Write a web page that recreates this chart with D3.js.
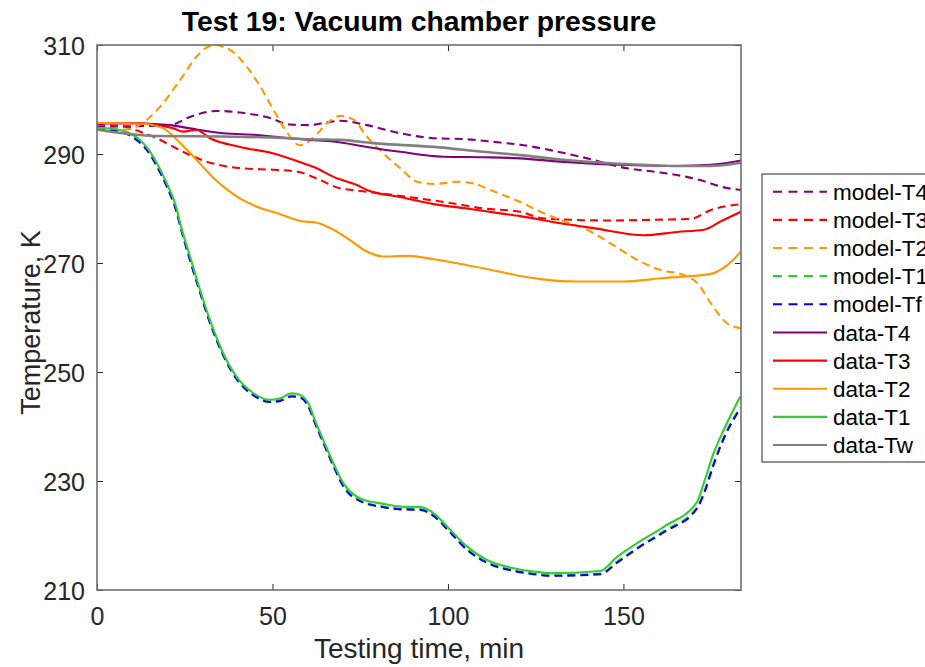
<!DOCTYPE html>
<html>
<head>
<meta charset="utf-8">
<script src="https://cdn.jsdelivr.net/npm/d3@7"></script>
<style>
  html, body { margin: 0; padding: 0; background: #fff; }
  svg { display: block; }
  text { font-family: "Liberation Sans", Arial, Helvetica, sans-serif; }
</style>
</head>
<body>
<div id="chart"></div>
<script>
// ---------------- DATA ----------------
const titleText = "Test 19: Vacuum chamber pressure";
const xLabelText = "Testing time, min";
const yLabelText = "Temperature, K";
const xTicks = [0, 50, 100, 150];
const yTicks = [210, 230, 250, 270, 290, 310];
const xDomain = [0, 183.5];
const yDomain = [210, 310];

const seriesNames  = ["model-T4","model-T3","model-T2","model-T1","model-Tf","data-T4","data-T3","data-T2","data-T1","data-Tw"];
const seriesColors = ["#800080","#ff0000","#ff9900","#33cc33","#0000ff","#800080","#ff0000","#ff9900","#33cc33","#808080"];
const seriesDashed = [true,true,true,true,true,false,false,false,false,false];

// [time (min), temperature (K)]
const modelT4 = [[0,295.0],[10,295.1],[20.8,295.3],[26.5,296.8],[34.1,297.9],[40.8,297.6],[49.3,296.6],[55,295.4],[60.7,295.3],[65.5,295.8],[69.3,296.1],[76.9,295.3],[86.4,293.8],[95.9,292.9],[105.4,292.7],[114.9,292.1],[120.6,291.7],[130,290.6],[139.7,289.2],[150,287.5],[160.6,286.6],[168,285.8],[173,285.0],[177.8,284.0],[183.5,283.4]];
const modelT3 = [[0,295.4],[8,295.0],[12.3,294.1],[17,292.9],[21.8,291.3],[26.5,289.8],[31.3,288.6],[40.8,287.4],[50.3,287.1],[56.9,286.8],[62.6,285.5],[69.3,283.7],[74.1,283.3],[81.6,282.7],[91.2,281.9],[100.7,281.0],[110.2,280.0],[120.6,279.4],[127,278.2],[136.5,277.9],[146.3,277.8],[155.8,277.9],[169.2,278.1],[174.8,279.7],[183.5,280.8]];
const modelT2 = [[0,294.7],[8,294.5],[12.3,295.4],[18,298.7],[23.7,303.6],[28.4,307.9],[33.2,310.0],[37.9,309.1],[42.7,306.0],[46.5,302.4],[50.3,298.1],[53.1,295.0],[57.9,291.6],[61.7,293.0],[65.5,295.6],[69.3,297.0],[73.1,296.3],[76.9,293.2],[81.6,290.1],[86.4,287.4],[91.2,284.9],[95.9,284.5],[102.6,284.9],[107.3,284.6],[112.1,283.4],[116.8,282.2],[120.6,281.2],[125.4,279.7],[132,277.9],[139.7,276.1],[146.3,273.6],[153.9,270.6],[160.6,268.7],[167.2,267.8],[171.1,266.3],[174.9,262.6],[179.6,258.9],[183.5,258.0]];
const modelT1 = [[0,294.7],[5,294.4],[9,293.7],[12,292.4],[14.6,290.6],[17,288.0],[19.9,284.2],[22.7,279.5],[23.7,277.0],[26.5,270.7],[29.4,264.7],[32.2,259.2],[36,253.1],[39.8,248.8],[44.6,245.8],[49.3,244.6],[52.2,244.8],[55.5,245.7],[57.9,245.4],[60.7,243.1],[61.7,241.4],[64.5,237.1],[67.4,232.8],[70.2,229.2],[75,226.4],[81.6,225.3],[86.4,224.9],[92.1,224.8],[95.9,223.7],[100.7,220.6],[105.4,217.5],[111.1,215.1],[118.7,213.6],[124.4,213.0],[129.2,212.7],[143.4,213.0],[148.2,215.2],[153.9,217.7],[161.5,220.8],[171,225.2],[172.9,227.8],[175.7,233.2],[178.6,238.0],[183.3,243.5]];
const modelTf = [[0,294.6],[5,294.3],[9,293.5],[12,292.2],[14.6,290.4],[17,287.8],[19.9,284.0],[22.7,279.3],[23.7,276.8],[26.5,270.5],[29.4,264.5],[32.2,259.0],[36,253.0],[39.8,248.7],[44.6,245.7],[49.3,244.5],[52.2,244.7],[55.5,245.5],[57.9,245.3],[60.7,243.0],[61.7,241.3],[64.5,237.0],[67.4,232.7],[70.2,229.0],[75,226.3],[81.6,225.2],[86.4,224.8],[92.1,224.7],[95.9,223.6],[100.7,220.5],[105.4,217.4],[111.1,215.0],[118.7,213.5],[124.4,212.9],[129.2,212.6],[143.4,212.9],[148.2,215.0],[153.9,217.6],[161.5,220.6],[171,225.0],[172.9,227.6],[175.7,233.0],[178.6,237.8],[183.3,243.3]];
const dataT4 = [[0,295.6],[12.3,295.6],[20.8,295.3],[26.5,294.7],[36,293.8],[45.5,293.5],[55,292.9],[60.7,292.6],[67.4,292.3],[76.9,291.3],[86.4,290.4],[98.7,289.5],[110.2,289.4],[120.6,289.2],[132,288.6],[146.3,288.1],[155.8,287.9],[165.3,287.8],[174.8,288.0],[183.5,288.8]];
const dataT3 = [[0,295.7],[12.3,295.7],[17,295.3],[21.8,294.7],[24.6,294.1],[28.4,294.4],[32.2,292.9],[40.8,291.3],[50.3,290.1],[57.9,288.5],[62.6,287.4],[67.4,285.8],[74.1,284.3],[76.9,283.4],[86.4,282.1],[95.9,280.8],[105.4,280.0],[114.9,279.1],[120.6,278.6],[132,277.3],[141.5,276.4],[155.8,275.1],[165.3,275.7],[172.9,276.1],[177.6,277.6],[183.5,279.4]];
const dataT2 = [[0,295.7],[12.3,295.6],[18.9,294.7],[23.7,292.0],[28.4,288.9],[33.2,285.6],[37,283.5],[40.8,281.8],[46.5,280.1],[51,279.2],[55,278.3],[57.9,277.7],[62.6,277.4],[67.4,276.1],[72.1,274.2],[76.9,272.1],[81.6,271.2],[88.3,271.3],[95.9,270.7],[105.4,269.6],[114.9,268.4],[120.6,267.6],[127,267.0],[136.5,266.6],[150,266.6],[160.6,267.2],[174.9,268.0],[179.6,269.6],[183.5,272.1]];
const dataT1 = [[0,294.8],[5,294.6],[9,293.9],[12,292.7],[14.6,290.9],[17,288.4],[19.9,284.6],[22.7,280.0],[23.7,277.3],[26.5,271.2],[29.4,265.0],[32.2,259.5],[36,253.4],[39.8,249.1],[44.6,246.1],[49.3,244.9],[52.2,245.2],[55.5,246.1],[57.9,245.8],[60.7,243.6],[61.7,241.8],[64.5,237.5],[67.4,233.2],[70.2,229.6],[75,226.8],[81.6,225.8],[86.4,225.3],[92.1,225.2],[95.9,224.1],[100.7,221.0],[105.4,218.0],[111.1,215.5],[118.7,214.0],[124.4,213.4],[129.2,213.1],[143.4,213.5],[148.2,216.1],[153.9,218.6],[161.5,221.6],[171,226.2],[172.9,229.6],[175.7,235.1],[178.6,239.4],[183.3,245.5]];
const dataTw = [[0,294.5],[5,294.0],[12,293.5],[17,293.3],[36,293.2],[51,293.0],[60.7,292.7],[69.3,292.6],[78.8,292.0],[95.9,291.3],[110.2,290.4],[120.6,289.8],[132,289.0],[146.3,288.3],[155.8,288.0],[165.3,287.8],[174.8,287.8],[183.5,288.4]];

const seriesData = [modelT4, modelT3, modelT2, modelT1, modelTf, dataT4, dataT3, dataT2, dataT1, dataTw];

// ---------------- LAYOUT ----------------
const W = 925, H = 667;
const plot = { left: 97, top: 45, right: 741, bottom: 590 };
const axisColor = "#262626";
const boxColor = "#707070";

const svg = d3.select("#chart").append("svg")
  .attr("width", W).attr("height", H)
  .attr("viewBox", `0 0 ${W} ${H}`);

const x = d3.scaleLinear().domain(xDomain).range([plot.left, plot.right]);
const y = d3.scaleLinear().domain(yDomain).range([plot.bottom, plot.top]);

// clip
svg.append("defs").append("clipPath").attr("id", "clip")
  .append("rect")
  .attr("x", plot.left).attr("y", plot.top)
  .attr("width", plot.right - plot.left).attr("height", plot.bottom - plot.top);

// lines
const line = d3.line().x(d => x(d[0])).y(d => y(d[1])).curve(d3.curveMonotoneX);
const gLines = svg.append("g").attr("clip-path", "url(#clip)");
seriesData.forEach((data, i) => {
  gLines.append("path")
    .datum(data)
    .attr("d", line)
    .attr("fill", "none")
    .attr("stroke", seriesColors[i])
    .attr("stroke-width", seriesNames[i] === "data-Tw" ? 2.6 : 2.1)
    .attr("stroke-dasharray", seriesDashed[i] ? "8,5" : null)
    .attr("stroke-linejoin", "round");
});

// axes (ticks inside)
const tickLen = 6;
const xAxis = d3.axisBottom(x).tickValues(xTicks).tickSizeInner(-tickLen).tickSizeOuter(0).tickPadding(12);
const yAxis = d3.axisLeft(y).tickValues(yTicks).tickSizeInner(-tickLen).tickSizeOuter(0).tickPadding(12);
const xTop = d3.axisTop(x).tickValues(xTicks).tickSizeInner(-tickLen).tickSizeOuter(0).tickFormat("");
const yRight = d3.axisRight(y).tickValues(yTicks).tickSizeInner(-tickLen).tickSizeOuter(0).tickFormat("");

function styleAxis(g) {
  g.select(".domain").remove();
  g.selectAll(".tick line").attr("stroke", axisColor).attr("stroke-width", 1);
  g.selectAll(".tick text").attr("fill", axisColor)
    .style("font-size", "25px")
    .style("font-family", "'Liberation Sans', Arial, sans-serif");
}

svg.append("g").attr("transform", `translate(0,${plot.bottom})`).call(xAxis).call(styleAxis)
  .selectAll(".tick text").attr("dy", "0.9em");
svg.append("g").attr("transform", `translate(${plot.left},0)`).call(yAxis).call(styleAxis)
  .selectAll(".tick text").attr("dy", "0.36em");
svg.append("g").attr("transform", `translate(0,${plot.top})`).call(xTop).call(styleAxis);
svg.append("g").attr("transform", `translate(${plot.right},0)`).call(yRight).call(styleAxis);

// box
svg.append("rect")
  .attr("x", plot.left).attr("y", plot.top)
  .attr("width", plot.right - plot.left).attr("height", plot.bottom - plot.top)
  .attr("fill", "none").attr("stroke", boxColor).attr("stroke-width", 1.6);

// title & labels
svg.append("text")
  .attr("x", (plot.left + plot.right) / 2).attr("y", 31)
  .attr("text-anchor", "middle")
  .style("font-size", "28.3px").style("font-weight", "bold")
  .attr("fill", "#000")
  .text(titleText);

svg.append("text")
  .attr("x", (plot.left + plot.right) / 2).attr("y", 658)
  .attr("text-anchor", "middle")
  .style("font-size", "28px")
  .attr("fill", axisColor)
  .text(xLabelText);

svg.append("text")
  .attr("transform", `translate(40,${(plot.top + plot.bottom) / 2 + 5}) rotate(-90)`)
  .attr("text-anchor", "middle")
  .style("font-size", "27px")
  .attr("fill", axisColor)
  .text(yLabelText);

// legend
const legend = { x: 762, y: 174, w: 200, h: 288, rowTop: 191.7, rowStep: 28.15 };
const gLeg = svg.append("g");
gLeg.append("rect")
  .attr("x", legend.x).attr("y", legend.y)
  .attr("width", legend.w).attr("height", legend.h)
  .attr("fill", "#fff").attr("stroke", "#262626").attr("stroke-width", 1);
seriesNames.forEach((name, i) => {
  const cy = legend.rowTop + i * legend.rowStep;
  gLeg.append("line")
    .attr("x1", 773).attr("x2", 827).attr("y1", cy).attr("y2", cy)
    .attr("stroke", seriesColors[i]).attr("stroke-width", 2.1)
    .attr("stroke-dasharray", seriesDashed[i] ? "9,6.5" : null);
  gLeg.append("text")
    .attr("x", 833).attr("y", cy).attr("dy", "0.36em")
    .style("font-size", "22.5px")
    .attr("fill", "#000")
    .text(name);
});
</script>
</body>
</html>
